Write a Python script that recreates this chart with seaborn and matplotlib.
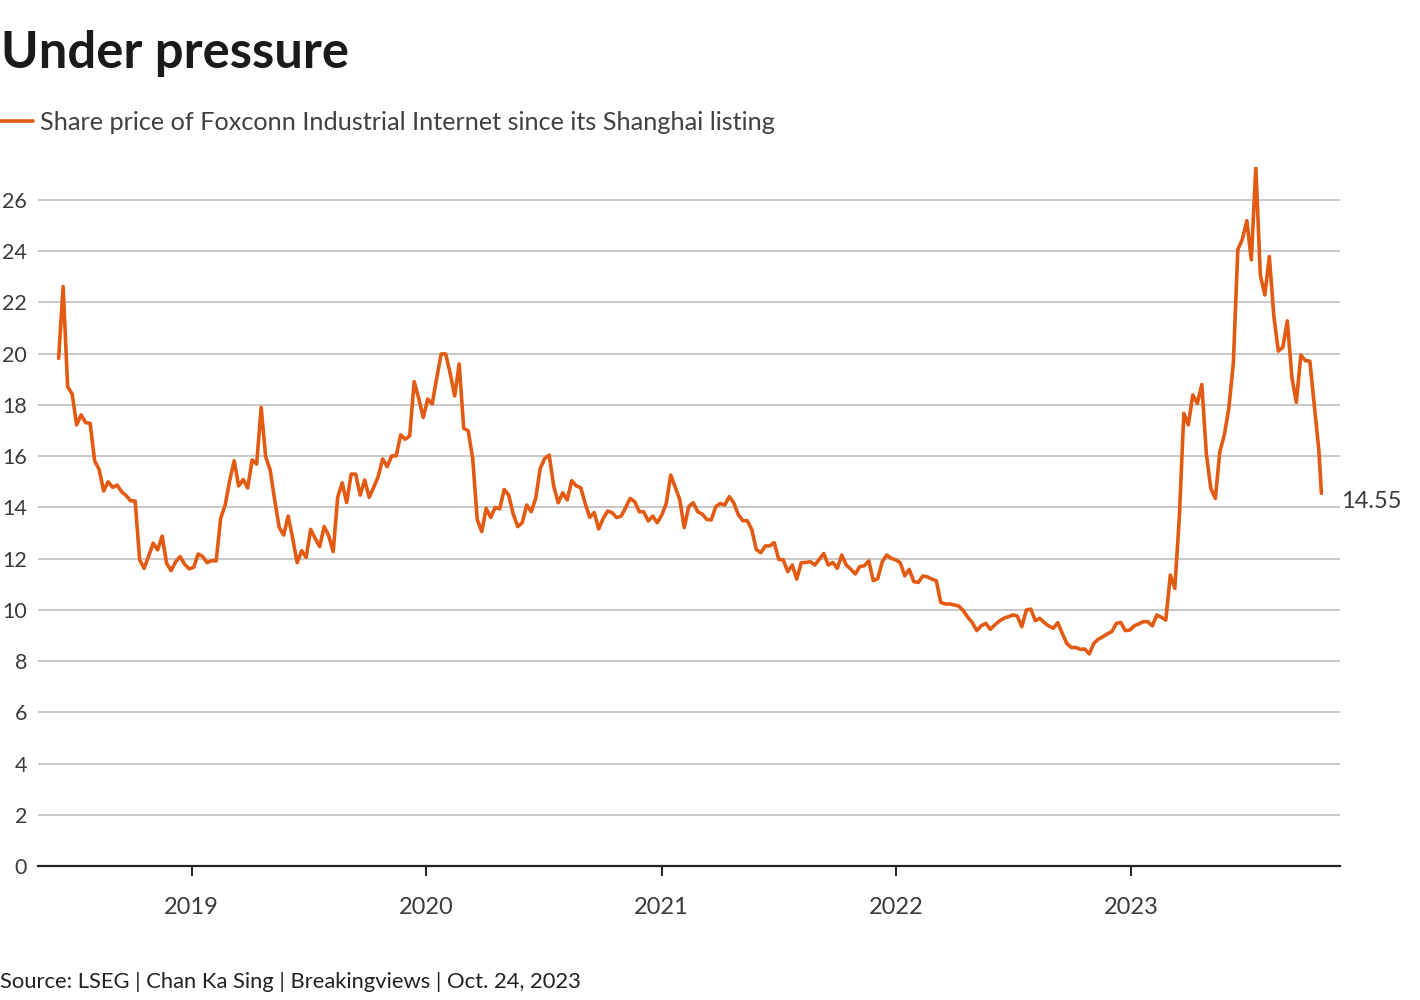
import pandas as pd
import matplotlib
matplotlib.use("Agg")
import matplotlib.pyplot as plt
import seaborn as sns

# Weekly closes (Fridays), listing on 2018-06-08
prices_2018 = [19.82, 22.62, 18.71, 18.43, 17.22, 17.61, 17.31, 17.28, 15.82, 15.48,
               14.64, 15.0, 14.78, 14.87, 14.61, 14.46, 14.26, 14.25, 11.95, 11.62,
               12.1, 12.6, 12.34, 12.88, 11.81, 11.53, 11.88, 12.08, 11.78, 11.6]
prices_2019 = [11.66, 12.18, 12.08, 11.84, 11.92, 11.91, 13.57, 14.09, 15.04, 15.82,
               14.84, 15.09, 14.76, 15.85, 15.69, 17.9, 15.98, 15.46, 14.29, 13.22,
               12.92, 13.66, 12.79, 11.84, 12.31, 12.05, 13.14, 12.79, 12.47, 13.25,
               12.9, 12.27, 14.39, 14.96, 14.19, 15.3, 15.3, 14.48, 15.07, 14.39,
               14.78, 15.2, 15.89, 15.59, 16.01, 16.01, 16.83, 16.66, 16.79, 18.91,
               18.26, 17.51]
prices_2020 = [18.23, 18.04, 19.04, 19.99, 19.99, 19.23, 18.35, 19.6, 17.09, 16.99,
               15.91, 13.53, 13.05, 13.96, 13.61, 14.0, 13.94, 14.7, 14.48, 13.74,
               13.25, 13.4, 14.09, 13.83, 14.35, 15.52, 15.91, 16.04, 14.83, 14.18,
               14.57, 14.29, 15.04, 14.84, 14.77, 14.15, 13.61, 13.8, 13.16, 13.57,
               13.86, 13.79, 13.6, 13.66, 14.0, 14.35, 14.22, 13.83, 13.83, 13.47,
               13.66, 13.4]
prices_2021 = [13.7, 14.15, 15.26, 14.78, 14.31, 13.21, 14.03, 14.18, 13.83, 13.74,
               13.53, 13.51, 14.03, 14.15, 14.09, 14.42, 14.18, 13.72, 13.48, 13.48,
               13.14, 12.36, 12.23, 12.49, 12.5, 12.62, 11.97, 11.95, 11.49, 11.75,
               11.2, 11.84, 11.85, 11.88, 11.75, 11.97, 12.2, 11.75, 11.85, 11.62,
               12.14, 11.75, 11.59, 11.4, 11.69, 11.72, 11.91, 11.14, 11.22, 11.88,
               12.14, 12.01, 11.95]
prices_2022 = [11.84, 11.33, 11.58, 11.1, 11.07, 11.32, 11.29, 11.2, 11.14, 10.29,
               10.23, 10.23, 10.19, 10.15, 9.97, 9.71, 9.5, 9.19, 9.38, 9.47,
               9.24, 9.41, 9.56, 9.67, 9.73, 9.8, 9.76, 9.34, 9.99, 10.03,
               9.58, 9.67, 9.5, 9.37, 9.28, 9.5, 9.08, 8.69, 8.53, 8.53,
               8.46, 8.47, 8.28, 8.69, 8.85, 8.95, 9.06, 9.15, 9.47, 9.51,
               9.19, 9.21]
prices_2023 = [9.38, 9.45, 9.54, 9.54, 9.37, 9.8, 9.71, 9.6, 11.36, 10.84,
               13.6, 17.67, 17.22, 18.39, 18.06, 18.8, 16.11, 14.74, 14.35, 16.17,
               16.83, 17.87, 19.62, 24.07, 24.46, 25.19, 23.66, 27.28, 23.07, 22.29,
               23.79, 21.47, 20.1, 20.25, 21.28, 19.1, 18.1, 19.95, 19.73, 19.71,
               17.99, 16.24]
last_date = "2023-10-24"
last_close = 14.55

series_label = "Share price of Foxconn Industrial Internet since its Shanghai listing"
year_ticks = ["2019", "2020", "2021", "2022", "2023"]
y_ticks = list(range(0, 27, 2))

weekly = prices_2018 + prices_2019 + prices_2020 + prices_2021 + prices_2022 + prices_2023
dates = list(pd.date_range("2018-06-08", periods=len(weekly), freq="7D")) + [pd.Timestamp(last_date)]
df = pd.DataFrame({"date": dates, "price": weekly + [last_close]})

sns.set_theme(style="white")
plt.rcParams["font.family"] = ["Lato", "DejaVu Sans"]

orange = "#e35a12"
fig = plt.figure(figsize=(14.2, 10), dpi=100)
ax = fig.add_axes([0.0268, 0.134, 0.9169, 0.6993])

sns.lineplot(data=df, x="date", y="price", ax=ax, color=orange, linewidth=2.6, label=series_label)

ax.set_xlim(pd.Timestamp("2018-05-07"), pd.Timestamp("2023-11-22"))
ax.set_ylim(0, 27.3)
ax.set_yticks(y_ticks)
ax.set_xticks([pd.Timestamp(y + "-01-01") for y in year_ticks])
ax.set_xticklabels(year_ticks)
ax.set_xlabel("")
ax.set_ylabel("")

ax.grid(axis="y", color="#c4c4c4", linewidth=1.3)
ax.grid(axis="x", visible=False)
for side in ["left", "right", "top"]:
    ax.spines[side].set_visible(False)
ax.spines["bottom"].set_color("#222222")
ax.spines["bottom"].set_linewidth(1.6)
ax.spines["bottom"].set_zorder(5)

tick_grey = "#3a3a3a"
ax.tick_params(axis="y", length=0, pad=8, labelsize=15.5, labelcolor=tick_grey)
ax.tick_params(axis="x", length=7, width=1.4, color="#222222", pad=15,
               labelsize=17, labelcolor=tick_grey, bottom=True)

ax.annotate(f"{last_close}", xy=(pd.Timestamp(last_date), last_close), xytext=(14, -6),
            textcoords="offset points", va="center", ha="left", fontsize=17,
            color=tick_grey)

handles, labels = ax.get_legend_handles_labels()
ax.get_legend().remove()
leg = fig.legend(handles, labels, loc="center left", bbox_to_anchor=(0.0, 0.878),
                 frameon=False, fontsize=18.2, handlelength=1.3, handletextpad=0.3,
                 borderaxespad=0, borderpad=0)
for t in leg.get_texts():
    t.set_color("#404040")

fig.text(0.001, 1 - 68 / 1000, "Under pressure", fontsize=36.5, fontweight="bold",
         color="#1a1a1a", va="baseline", ha="left")
fig.text(0.0, 1 - 988 / 1000, "Source: LSEG | Chan Ka Sing | Breakingviews | Oct. 24, 2023",
         fontsize=15.8, color="#222222", va="baseline", ha="left")

fig.savefig("out.png", dpi=100)
